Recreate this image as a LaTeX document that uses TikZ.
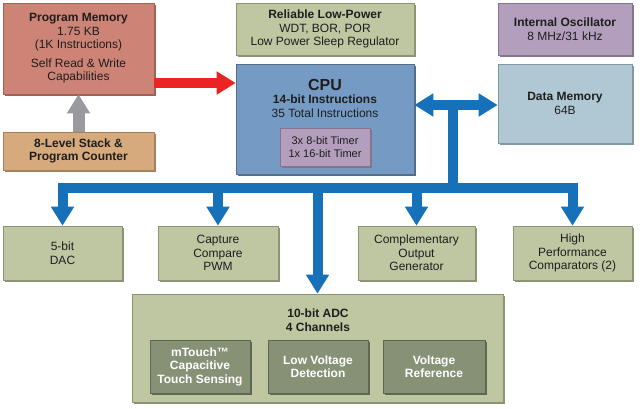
\documentclass[tikz,border=0pt]{standalone}
\usepackage{fontspec}
\setmainfont{Liberation Sans}
\usetikzlibrary{arrows.meta,shadows}
\definecolor{txt}{HTML}{1E1E1E}
\definecolor{pmF}{HTML}{CD8375}
\definecolor{pmS}{HTML}{9E6356}
\definecolor{stF}{HTML}{D6AA7D}
\definecolor{stS}{HTML}{A4825E}
\definecolor{grF}{HTML}{BEC6A2}
\definecolor{grS}{HTML}{8B9475}
\definecolor{cpF}{HTML}{759BC4}
\definecolor{cpS}{HTML}{526E8C}
\definecolor{puF}{HTML}{B49EBE}
\definecolor{puS}{HTML}{84748C}
\definecolor{dmF}{HTML}{AFC8D4}
\definecolor{dmS}{HTML}{8198A3}
\definecolor{adF}{HTML}{879176}
\definecolor{adS}{HTML}{5E6752}
\definecolor{blueA}{HTML}{1671B9}
\definecolor{redA}{HTML}{EB2323}
\definecolor{grayA}{HTML}{999A9E}
\begin{document}
\begin{tikzpicture}[x=1pt,y=1pt,
  >={Triangle[length=19pt,width=22pt]},
  blk/.style 2 args={draw=#2, fill=#1, line width=0.6pt,
    general shadow={fill=#2, shadow xshift=2pt, shadow yshift=-2pt},
    inner sep=0pt, align=center, text=txt,
    font=\fontsize{12}{13.5}\selectfont},
  sz/.style 2 args={minimum width=#1pt, minimum height=#2pt},
  pmbox/.style={blk={pmF}{pmS}},
  stbox/.style={blk={stF}{stS}},
  grbox/.style={blk={grF}{grS}},
  cpbox/.style={blk={cpF}{cpS}},
  pubox/.style={blk={puF}{puS}},
  dmbox/.style={blk={dmF}{dmS}},
  adbox/.style={blk={adF}{adS}, text=white, font=\fontsize{12}{13.5}\selectfont\bfseries},
  lbl/.style={inner sep=0pt, align=center, text=txt, font=\fontsize{12}{13.5}\selectfont},
  bluearr/.style={draw=blueA, line width=10pt, ->},
  redarr/.style={draw=redA, line width=10pt, ->},
  grayarr/.style={draw=grayA, line width=12pt, ->}]
\useasboundingbox (0,0) rectangle (640,-408);

% top-left
\node[pmbox, sz={151}{91}] (pm) at (78.5,-48.5)
  {\textbf{Program Memory}\\1.75 KB\\(1K Instructions)\\[5pt]Self Read \& Write\\Capabilities};
\node[stbox, sz={151}{38}, font=\fontsize{12}{13.5}\selectfont\bfseries] (stk) at (78.5,-151)
  {8-Level Stack \&\\Program Counter};

% centre
\node[grbox, sz={178}{52}] (rlp) at (325,-29)
  {\textbf{Reliable Low-Power}\\WDT, BOR, POR\\Low Power Sleep Regulator};
\node[cpbox, sz={178}{110}] (cpu) at (325,-119) {};
\node[lbl] (cputxt) at (325,-98)
  {{\fontsize{16}{17}\selectfont\bfseries CPU}\\\textbf{14-bit Instructions}\\35 Total Instructions};
\node[pubox, sz={90}{38}, font=\fontsize{11}{13}\selectfont] (tmr) at (325,-147)
  {3x 8-bit Timer\\1x 16-bit Timer};

% right
\node[pubox, sz={134}{52}] (osc) at (565,-29)
  {\textbf{Internal Oscillator}\\8 MHz/31 kHz};
\node[dmbox, sz={134}{79}] (dm) at (565,-103.5)
  {\textbf{Data Memory}\\64B};

% bottom row
\node[grbox, sz={119}{54}] (dac) at (62.5,-253) {5-bit\\DAC};
\node[grbox, sz={120}{54}] (ccp) at (218,-253) {Capture\\Compare\\PWM};
\node[grbox, sz={117}{54}] (cog) at (416.5,-253) {Complementary\\Output\\Generator};
\node[grbox, sz={119}{54}] (cmp) at (572.5,-253) {High\\Performance\\Comparators (2)};

% ADC
\node[grbox, sz={371}{108}] (adc) at (317.5,-348) {};
\node[lbl, font=\fontsize{12}{13.5}\selectfont\bfseries] (adctxt) at (318,-320)
  {10-bit ADC\\4 Channels};
\node[adbox, sz={100}{53}] (mt) at (200,-366.5) {mTouch™\\Capacitive\\Touch Sensing};
\node[adbox, sz={100}{53}] (lvd) at (318,-366.5) {Low Voltage\\Detection};
\node[adbox, sz={102}{53}] (vr) at (434,-366.5) {Voltage\\Reference};

% connectors
\coordinate (ry) at (0,-83);
\coordinate (by) at (0,-105);
\coordinate (bus) at (0,-188);
\coordinate (jn) at (453,-105);

\draw[redarr] (pm.east |- ry) -- (cpu.west |- ry);
\draw[grayarr] (stk.north) -- (pm.south);
\draw[bluearr, <->] (cpu.east |- by) -- (dm.west |- by);
\draw[draw=blueA, line width=10pt] (jn) -- (jn |- bus);
\draw[bluearr, <->] (dac.north) -- (dac.north |- bus) -- (cmp.north |- bus) -- (cmp.north);
\draw[bluearr] (ccp.north |- bus) -- (ccp.north);
\draw[bluearr] (cog.north |- bus) -- (cog.north);
\draw[bluearr] (adc.north |- bus) -- (adc.north);
\end{tikzpicture}
\end{document}
